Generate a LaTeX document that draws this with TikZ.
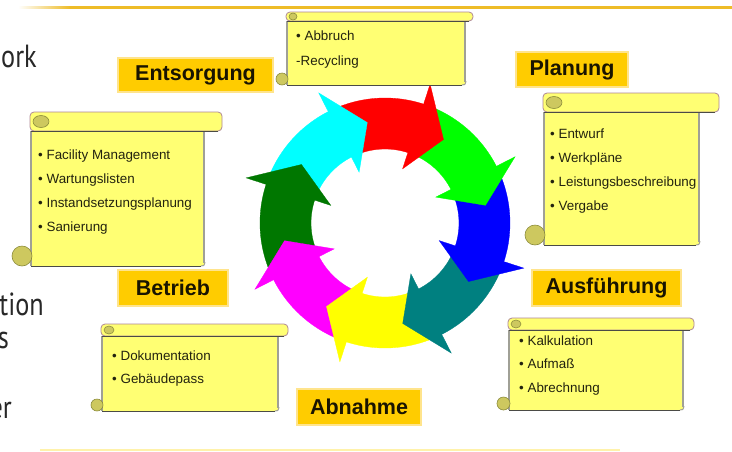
\documentclass[tikz,border=0pt]{standalone}
\usepackage{fontspec}
\setmainfont{Liberation Sans}
\newfontfamily\bigfont[FakeStretch=0.82]{PT Sans}
\definecolor{ringred}{RGB}{255,0,0}
\definecolor{ringgreen}{RGB}{0,255,0}
\definecolor{ringblue}{RGB}{0,0,255}
\definecolor{ringteal}{RGB}{0,128,128}
\definecolor{ringyellow}{RGB}{255,255,0}
\definecolor{ringmag}{RGB}{255,0,255}
\definecolor{ringdkgreen}{RGB}{0,119,0}
\definecolor{ringcyan}{RGB}{0,255,255}
\definecolor{scrollfill}{RGB}{255,255,115}
\definecolor{scrollside}{RGB}{160,160,150}
\definecolor{scrolldark}{RGB}{75,75,70}
\definecolor{rolltop}{RGB}{175,135,150}
\definecolor{curlfill}{RGB}{205,200,95}
\definecolor{curledge}{RGB}{140,140,60}
\definecolor{labelfill}{RGB}{255,204,0}
\definecolor{labelborder}{RGB}{255,228,140}
\definecolor{labeltext}{RGB}{25,20,0}
\definecolor{itemtext}{RGB}{35,35,15}
\definecolor{bigtext}{RGB}{40,40,40}
\definecolor{topgold}{RGB}{238,188,40}
\definecolor{faintgold}{RGB}{255,242,170}
% #1 x-left, #2 roll top, #3 roll bottom, #4 body right, #5 roll right end,
% #6 body bottom, #7 bottom curl radius, #8 top curl x radius, #9 top curl y radius
\newcommand{\drawscroll}[9]{%
  \fill[scrollfill] (#1,#3) rectangle (#4,#6);
  \draw[scrollside, line width=1.6pt] (#4,#3) -- (#4,#6-3);
  \draw[scrollside, line width=1.2pt] (#1,#3) -- (#1,#6);
  \draw[scrolldark, line width=1pt] (#1,#6) -- (#4-3,#6);
  \draw[scrollside, line width=1pt] (#4-3,#6) .. controls (#4,#6) .. (#4+1,#6-4);
  \filldraw[fill=scrollfill, draw=rolltop, line width=0.8pt, rounded corners=4pt] (#1-1,#2) rectangle (#5,#3);
  \draw[scrolldark, line width=1pt] (#1,#3) -- (#5-4,#3);
  \filldraw[fill=curlfill, draw=curledge, line width=0.6pt] (#1+#8+2,{(#2+#3)/2}) ellipse [x radius=#8, y radius=#9];
  \filldraw[fill=curlfill, draw=curledge, line width=0.6pt] (#1-#7+1,#6-#7) circle [radius=#7];
}
\begin{document}
\begin{tikzpicture}[x=1pt,y=-1pt,
  lbl/.style={fill=labelfill, draw=labelborder, line width=1.5pt, inner sep=0pt,
    font=\fontsize{21.5}{24}\selectfont\bfseries, text=labeltext},
  item/.style={anchor=west, inner sep=0pt, font=\fontsize{13.4}{15}\selectfont,
    text=itemtext, text height=9.5pt, text depth=2.7pt},
  bigtxt/.style={anchor=base east, inner sep=0pt,
    font=\bigfont\fontsize{32}{36}\selectfont, text=bigtext}]
\clip (0,0) rectangle (732,451);
\fill[white] (0,0) rectangle (732,451);

% top and bottom rules
\shade[left color=white, right color=topgold] (18,6.8) rectangle (70,8.6);
\fill[topgold] (70,6.4) rectangle (732,8.9);
\fill[faintgold] (40,448.8) rectangle (620,450.5);

% partial slide text on the left
\node[bigtxt] (ork) at (37,67) {ork};
\node[bigtxt] (tion) at (44,315) {tion};
\node[bigtxt] (s) at (9,348) {s};
\node[bigtxt] (er) at (12,418) {er};

% ring of arrows: bodies first, heads on top
\begin{scope}[shift={(385,223)}, yscale=-1]
  \foreach \T/\c in {55/ringred,10/ringgreen,-35/ringblue,-80/ringteal,-125/ringyellow,-170/ringmag,-215/ringdkgreen,-260/ringcyan}{
    \filldraw[fill=\c, draw=\c, line width=0.3pt]
      ({\T+61}:125) arc[start angle=\T+61, end angle=\T+16, radius=125]
      -- ({\T+16}:74) arc[start angle=\T+16, end angle=\T+61, radius=74] -- cycle;
  }
  \foreach \T/\c in {55/ringred,10/ringgreen,-35/ringblue,-80/ringteal,-125/ringyellow,-170/ringmag,-215/ringdkgreen,-260/ringcyan}{
    \filldraw[fill=\c, draw=\c, line width=0.3pt]
      ({\T+17}:146) -- (\T:102) -- ({\T+17}:57) -- cycle;
  }
\end{scope}

% scrolls
\drawscroll{287}{12}{21}{465}{473}{85}{6}{4}{3.5}
\drawscroll{31}{112}{131}{204}{222}{266}{10}{8}{6}
\drawscroll{544}{93}{112}{699}{719}{245}{10}{8}{6}
\drawscroll{102}{324}{336}{278}{288}{411}{6}{5}{4}
\drawscroll{509}{318}{330}{683}{694}{410}{6.5}{5}{4}

% scroll texts
\node[item] (abbruch) at (296,37) {• Abbruch};
\node[item] (recycling) at (296,62) {-Recycling};

\node[item] (fm) at (38,156) {• Facility Management};
\node[item] (wl) at (38,180) {• Wartungslisten};
\node[item] (isp) at (38,204) {• Instandsetzungsplanung};
\node[item] (san) at (38,228) {• Sanierung};

\node[item] (entw) at (550,135) {• Entwurf};
\node[item] (werk) at (550,159) {• Werkpläne};
\node[item] (lb) at (550,183) {• Leistungsbeschreibung};
\node[item] (verg) at (550,207) {• Vergabe};

\node[item] (doku) at (112,357) {• Dokumentation};
\node[item] (geb) at (112,380) {• Gebäudepass};

\node[item] (kalk) at (519,342) {• Kalkulation};
\node[item] (aufm) at (519,365) {• Aufmaß};
\node[item] (abr) at (519,389) {• Abrechnung};

% phase labels
\node[lbl, minimum width=155pt, minimum height=34pt] (entsorgung) at (195.5,75) {Entsorgung};
\node[lbl, minimum width=112pt, minimum height=35pt] (planung) at (572,69.5) {Planung};
\node[lbl, minimum width=149pt, minimum height=36pt] (ausfuehrung) at (606.5,288) {Ausführung};
\node[lbl, minimum width=110pt, minimum height=36pt] (betrieb) at (173,288) {Betrieb};
\node[lbl, minimum width=124pt, minimum height=36pt] (abnahme) at (359,407) {Abnahme};
\end{tikzpicture}
\end{document}
